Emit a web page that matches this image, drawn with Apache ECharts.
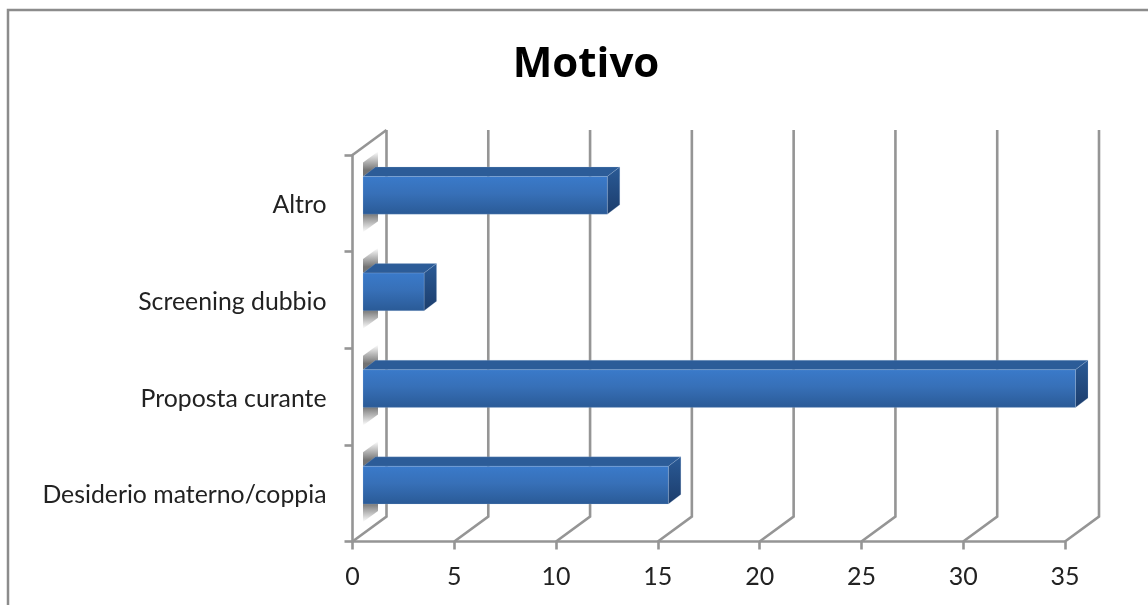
<!DOCTYPE html>
<html>
<head>
<meta charset="utf-8">
<style>html,body{margin:0;padding:0;background:#fff}#chart{width:1148px;height:605px}</style>
<script src="https://cdn.jsdelivr.net/npm/echarts@6/dist/echarts.min.js"></script>
</head>
<body>
<div id="chart"></div>
<script>
// Bar categories, listed from the bottom of the axis upward
const categories = ['Desiderio materno/coppia', 'Proposta curante', 'Screening dubbio', 'Altro'];
const values = [15, 35, 3, 12];
const xTicks = [0, 5, 10, 15, 20, 25, 30, 35];

// Pseudo-3D projection: how far the back wall and the bars sit from the front plane
const WALL_DX = 34, WALL_DY = -25;
const BAR_DX = 10.5, BAR_DY = -8;
const CAP_DX = 12.5, CAP_DY = -9.5;
const BAR_RATIO = 0.39;
const GREY = '#959595';
const LINE_W = 2.6;

function vGrad(stops) {
  return new echarts.graphic.LinearGradient(0, 0, 0, 1, stops);
}

// Back wall grid line plus its diagonal on the floor, one per value tick
function renderWall(params, api) {
  const sys = params.coordSys;
  const x = api.coord([api.value(0), 0])[0];
  const bottom = sys.y + sys.height;
  const children = [{
    type: 'polyline',
    shape: { points: [[x, bottom], [x + WALL_DX, bottom + WALL_DY], [x + WALL_DX, sys.y + WALL_DY]] },
    style: { stroke: GREY, lineWidth: LINE_W, fill: null }
  }];
  if (api.value(0) === 0) {
    children.push({
      type: 'line',
      shape: { x1: x, y1: sys.y, x2: x + WALL_DX, y2: sys.y + WALL_DY },
      style: { stroke: GREY, lineWidth: LINE_W }
    });
  }
  return { type: 'group', children };
}

// Box-shaped bar: soft shadow on the side wall, then top, side and front faces
function renderBar(params, api) {
  const start = api.coord([0, api.value(1)]);
  const end = api.coord([api.value(0), api.value(1)]);
  const h = api.size([0, 1])[1] * BAR_RATIO;
  const x0 = start[0] + BAR_DX;
  const x1 = end[0] + BAR_DX;
  const yT = start[1] + BAR_DY - h / 2;
  const yB = yT + h;
  const edge = 'rgba(185,205,229,0.2)';
  return {
    type: 'group',
    children: [
      {
        type: 'polygon',
        shape: { points: [[x0, yT - 14], [x0 + 15, yT - 25], [x0 + 15, yT - 9], [x0, yT]] },
        style: {
          fill: vGrad([
            { offset: 0, color: 'rgba(130,130,130,0)' },
            { offset: 0.4, color: 'rgba(130,130,130,0.6)' },
            { offset: 0.75, color: 'rgba(115,115,115,1)' },
            { offset: 1, color: 'rgba(115,115,115,1)' }
          ])
        }
      },
      {
        type: 'polygon',
        shape: { points: [[x0, yB], [x0 + 15, yB - 9], [x0 + 15, yB + 7], [x0, yB + 18]] },
        style: {
          fill: vGrad([
            { offset: 0, color: 'rgba(115,115,115,1)' },
            { offset: 0.3, color: 'rgba(115,115,115,1)' },
            { offset: 0.62, color: 'rgba(130,130,130,0.6)' },
            { offset: 1, color: 'rgba(130,130,130,0)' }
          ])
        }
      },
      {
        type: 'polygon',
        shape: { points: [[x0, yT], [x0 + CAP_DX, yT + CAP_DY], [x1 + CAP_DX, yT + CAP_DY], [x1, yT]] },
        style: { fill: '#2c5c98', stroke: edge, lineWidth: 1 }
      },
      {
        type: 'polygon',
        shape: { points: [[x1, yT], [x1 + CAP_DX, yT + CAP_DY], [x1 + CAP_DX, yB + CAP_DY], [x1, yB]] },
        style: { fill: vGrad([{ offset: 0, color: '#2a5a96' }, { offset: 1, color: '#1c3d6c' }]), stroke: edge, lineWidth: 1 }
      },
      {
        type: 'rect',
        shape: { x: x0, y: yT, width: x1 - x0, height: h },
        style: {
          fill: vGrad([{ offset: 0, color: '#3a7aca' }, { offset: 0.45, color: '#3770b8' }, { offset: 1, color: '#2a5a96' }]),
          stroke: edge, lineWidth: 1
        }
      }
    ]
  };
}

const chart = echarts.init(document.getElementById('chart'), null, { renderer: 'canvas' });
chart.setOption({
  animation: false,
  backgroundColor: '#ffffff',
  title: {
    text: 'Motivo',
    left: 581,
    top: 39,
    textAlign: 'center',
    textStyle: { fontFamily: 'Open Sans', fontSize: 42, fontWeight: 'bold', color: '#000000' }
  },
  grid: { left: 352.5, top: 155, width: 712.5, height: 386.5 },
  xAxis: {
    type: 'value',
    min: 0,
    max: 35,
    interval: 5,
    splitLine: { show: false },
    axisLine: { show: true, lineStyle: { color: GREY, width: LINE_W } },
    axisTick: { show: true, length: 8, lineStyle: { color: GREY, width: LINE_W } },
    axisLabel: { margin: 23, fontFamily: 'Lato', fontSize: 25, color: '#222222' }
  },
  yAxis: {
    type: 'category',
    data: categories,
    splitLine: { show: false },
    axisLine: { show: true, onZero: false, lineStyle: { color: GREY, width: LINE_W } },
    axisTick: { show: true, length: 8, lineStyle: { color: GREY, width: LINE_W } },
    axisLabel: { margin: 26, fontFamily: 'Lato', fontSize: 24.8, color: '#222222', verticalAlign: 'top', lineHeight: 4 }
  },
  series: [
    {
      type: 'custom',
      name: 'wall',
      renderItem: renderWall,
      data: xTicks.map(t => [t]),
      encode: { x: 0 },
      silent: true,
      z: 1
    },
    {
      type: 'custom',
      name: 'Motivo',
      renderItem: renderBar,
      data: values.map((v, i) => [v, i]),
      encode: { x: 0, y: 1 },
      z: 3
    }
  ],
  graphic: [{
    type: 'polyline',
    shape: { points: [[8, 610], [8, 10], [1152, 10]] },
    style: { stroke: '#8c8c8c', lineWidth: 2.5, fill: null },
    silent: true
  }]
});
</script>
</body>
</html>
